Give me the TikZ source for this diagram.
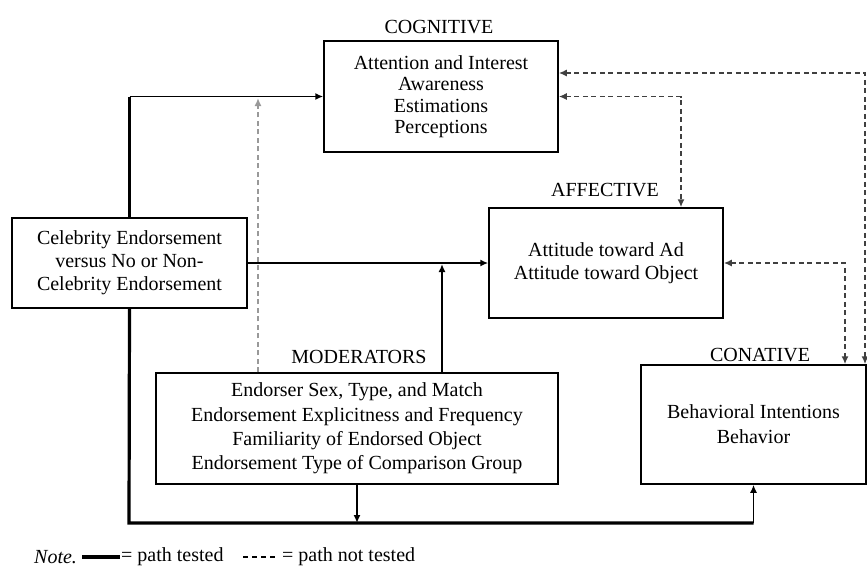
\documentclass[tikz,border=0pt]{standalone}
\usepackage{fontspec}
\setmainfont{Liberation Serif}
\usetikzlibrary{arrows.meta}

\tikzset{
  boxnode/.style={draw, line width=1.5pt, align=center, inner sep=0pt,
    font=\fontsize{20}{23}\selectfont},
  headnode/.style={inner sep=0pt, font=\fontsize{20}{22}\selectfont},
  tip/.style={-{Latex[length=8pt,width=7pt]}},
  tested/.style={line width=1.8pt, tip},
  thickpath/.style={line width=3.2pt},
  nottested/.style={line width=1.8pt, black!75, dash pattern=on 5pt off 3.5pt,
    {Latex[length=8pt,width=7pt]}-{Latex[length=8pt,width=7pt]}},
  graydash/.style={line width=1.8pt, black!40, dash pattern=on 5pt off 3.5pt, tip},
}

\begin{document}
\begin{tikzpicture}[x=1pt,y=-1pt]
\useasboundingbox (0,0) rectangle (867,566);

% boxes
\node[boxnode, minimum width=234pt, minimum height=111pt,
  font=\fontsize{20}{21.5}\selectfont] (cog) at (441,96.5)
  {Attention and Interest\\Awareness\\Estimations\\Perceptions};
\node[boxnode, minimum width=234pt, minimum height=110pt] (aff) at (606,263)
  {Attitude toward Ad\\Attitude toward Object};
\node[boxnode, minimum width=235pt, minimum height=90pt] (cel) at (129.5,263)
  {Celebrity Endorsement\\versus No or Non-\\Celebrity Endorsement};
\node[boxnode, minimum width=402pt, minimum height=111pt,
  font=\fontsize{20}{24.3}\selectfont] (mod) at (357,428.5)
  {Endorser Sex, Type, and Match\\Endorsement Explicitness and Frequency\\
   Familiarity of Endorsed Object\\Endorsement Type of Comparison Group};
\node[boxnode, minimum width=225pt, minimum height=119pt,
  font=\fontsize{20}{25}\selectfont] (con) at (753.5,424.5)
  {Behavioral Intentions\\Behavior};

% headings
\node[headnode] (coghead) at (439,27) {COGNITIVE};
\node[headnode] (affhead) at (605,190) {AFFECTIVE};
\node[headnode] (modhead) at (359,357) {MODERATORS};
\node[headnode] (conhead) at (760,355) {CONATIVE};

% junctions
\coordinate (bl) at (129,523);
\coordinate (jaff) at (442,263);
\coordinate (jcog) at (258,97);
\coordinate (r1) at (865,73);
\coordinate (r2) at (681,97);
\coordinate (r3) at (845,263);

% tested paths
\draw[thickpath] (cel.north) -- (cel.north |- cog.west);
\draw[tested] (cel.north |- cog.west) -- (cog.west);
\draw[tested] (cel.east) -- (aff.west);
\draw[thickpath] (cel.south) -- (bl) -- (bl -| con.south);
\draw[tested] (bl -| con.south) -- (con.south);
\draw[tested] (mod.south) -- (mod.south |- bl);
\draw[tested, shorten >=1pt] (jaff |- mod.north) -- (jaff);

% paths not tested
\draw[graydash, shorten >=1pt] (jcog |- mod.north) -- (jcog);
\draw[nottested] (cog.east |- r1) -- (r1) -- (r1 |- con.north);
\draw[nottested] (cog.east) -| (aff.north -| r2);
\draw[nottested] (aff.east) -| (con.north -| r3);

% note
\node[anchor=west, inner sep=0pt, font=\fontsize{20}{22}\itshape] (note) at (34,557) {Note.};
\coordinate (ls1) at (82,557);
\coordinate (ls2) at (120,557);
\draw[thickpath] (ls1) -- (ls2);
\node[anchor=west, inner sep=0pt, font=\fontsize{20}{22}\selectfont] (ltested) at (121,557) {= path tested};
\coordinate (ld1) at (243,557);
\coordinate (ld2) at (276,557);
\draw[line width=1.4pt, dash pattern=on 5pt off 4pt] (ld1) -- (ld2);
\node[anchor=west, inner sep=0pt, font=\fontsize{20}{22}\selectfont] (lnot) at (282,557) {= path not tested};
\end{tikzpicture}
\end{document}
